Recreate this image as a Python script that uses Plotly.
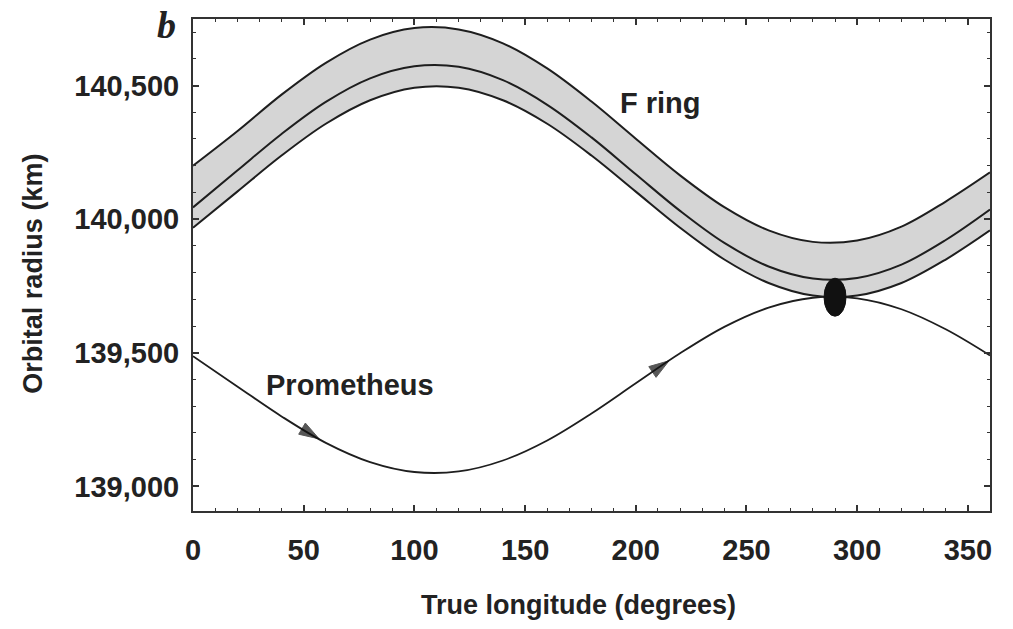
import numpy as np
import plotly.graph_objects as go

# ---- data ----
longitude = [0, 20, 40, 60, 80, 100, 120, 140, 160, 180, 200, 220, 240, 260, 280, 300, 320, 340, 360]
ring_outer = [140200, 140329, 140466, 140585, 140672, 140715, 140710, 140658, 140564, 140440,
              140301, 140164, 140045, 139958, 139915, 139920, 139972, 140066, 140175]
ring_center = [140044, 140182, 140319, 140439, 140527, 140572, 140570, 140520, 140428, 140306,
               140168, 140031, 139911, 139823, 139778, 139780, 139830, 139922, 140036]
ring_inner = [139968, 140103, 140238, 140357, 140445, 140492, 140492, 140445, 140357, 140238,
              140103, 139968, 139849, 139761, 139714, 139714, 139761, 139849, 139958]
prometheus = [139487, 139374, 139262, 139163, 139091, 139054, 139056, 139097, 139172, 139273,
              139386, 139498, 139597, 139669, 139706, 139704, 139663, 139588, 139490]

x_ticks = [0, 50, 100, 150, 200, 250, 300, 350]
y_ticks = [139000, 139500, 140000, 140500]
y_tick_labels = ["139,000", "139,500", "140,000", "140,500"]

arrow_lons = [57, 215]          # direction-of-motion arrows on Prometheus
moon_lon = 290                  # Prometheus position (black ellipse)
moon_r = 139708

LINE = "#1e1e1e"
AXC = "#333333"
FONT = "Liberation Sans, Arial, sans-serif"

fig = go.Figure()

# F ring band fill
fig.add_trace(go.Scatter(x=longitude, y=ring_outer, mode="lines",
                         line=dict(color=LINE, width=2, shape="spline"),
                         showlegend=False, hoverinfo="skip"))
fig.add_trace(go.Scatter(x=longitude, y=ring_inner, mode="lines", fill="tonexty",
                         fillcolor="#d5d5d5",
                         line=dict(color=LINE, width=2, shape="spline"),
                         showlegend=False, hoverinfo="skip"))
fig.add_trace(go.Scatter(x=longitude, y=ring_center, mode="lines",
                         line=dict(color=LINE, width=2, shape="spline"),
                         showlegend=False, hoverinfo="skip"))
fig.add_trace(go.Scatter(x=longitude, y=prometheus, mode="lines",
                         line=dict(color=LINE, width=1.8, shape="spline"),
                         showlegend=False, hoverinfo="skip"))

# arrowheads along Prometheus' path
for a in arrow_lons:
    xs = [a - 3, a]
    ys = list(np.interp(xs, longitude, prometheus))
    fig.add_trace(go.Scatter(x=xs, y=ys, mode="markers",
                             marker=dict(symbol="arrow", angleref="previous",
                                         size=[0, 21], color="#111111",
                                         line=dict(width=1, color="#111111")),
                             showlegend=False, hoverinfo="skip"))

# Prometheus (black ellipse)
fig.add_shape(type="circle", xref="x", yref="y", xsizemode="pixel", ysizemode="pixel",
              xanchor=moon_lon, yanchor=moon_r, x0=-11, x1=11, y0=-19, y1=19,
              fillcolor="#111111", line=dict(color="#111111", width=1), layer="above")

annotations = [
    dict(x=211, y=140435, xref="x", yref="y", text="F ring", showarrow=False,
         font=dict(family=FONT, size=29, color="#222222", weight="bold")),
    dict(x=71, y=139380, xref="x", yref="y", text="Prometheus", showarrow=False,
         font=dict(family=FONT, size=29, color="#222222", weight="bold")),
    dict(x=-0.033, y=0.988, xref="paper", yref="paper", text="<b><i>b</i></b>",
         showarrow=False, xanchor="center", yanchor="middle",
         font=dict(family="Liberation Serif, Times New Roman, serif", size=38, color="#222222")),
    dict(x=0.484, y=-0.191, xref="paper", yref="paper", text="True longitude (degrees)",
         showarrow=False, xanchor="center", yanchor="middle",
         font=dict(family=FONT, size=27, color="#222222", weight="bold")),
    dict(x=-0.201, y=0.482, xref="paper", yref="paper", text="Orbital radius (km)",
         showarrow=False, xanchor="center", yanchor="middle", textangle=-90,
         font=dict(family=FONT, size=27, color="#222222", weight="bold")),
]

fig.update_layout(
    width=1013, height=629, autosize=False,
    margin=dict(l=193, r=23, t=19, b=118),
    paper_bgcolor="white", plot_bgcolor="white",
    annotations=annotations,
    xaxis=dict(range=[0, 360], tickvals=x_ticks, ticks="inside", ticklen=6, tickwidth=1.5,
               tickcolor=AXC, showline=True, linecolor=AXC, linewidth=2, mirror="ticks",
               showgrid=False, zeroline=False, ticklabelstandoff=12,
               minor=dict(dtick=10, ticks="inside", ticklen=3, tickcolor=AXC, tickwidth=1),
               tickfont=dict(family=FONT, size=29, color="#222222", weight="bold")),
    yaxis=dict(range=[138908, 140749], tickvals=y_ticks, ticktext=y_tick_labels,
               ticks="inside", ticklen=6, tickwidth=1.5, tickcolor=AXC,
               showline=True, linecolor=AXC, linewidth=2, mirror="ticks",
               showgrid=False, zeroline=False, ticklabelstandoff=6,
               minor=dict(dtick=100, ticks="inside", ticklen=3, tickcolor=AXC, tickwidth=1),
               tickfont=dict(family=FONT, size=29, color="#222222", weight="bold")),
)

fig.write_html("out.html")
